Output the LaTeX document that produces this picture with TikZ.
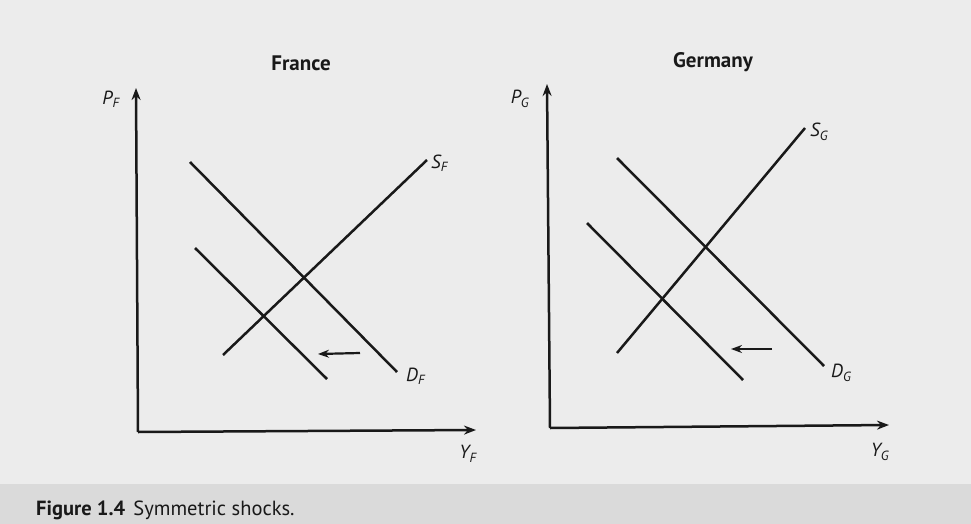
\documentclass[tikz,border=0pt]{standalone}
\usepackage{fontspec}
\setmainfont{PT Sans}
\usetikzlibrary{arrows.meta}
\definecolor{paper}{RGB}{236,236,236}
\definecolor{band}{RGB}{218,218,218}
\definecolor{ink}{RGB}{25,25,25}
\tikzset{
  curve/.style={draw=ink, line width=2.5pt},
  axis/.style={draw=ink, line width=2.5pt, -{Stealth[length=12pt,width=9pt]}},
  shiftarrow/.style={draw=ink, line width=2.2pt, -{Stealth[length=11pt,width=8pt]}},
  lab/.style={font=\fontsize{19}{21}\selectfont\itshape, text=ink, inner sep=0pt},
  ttl/.style={font=\fontsize{21}{24}\selectfont\bfseries, text=ink, inner sep=0pt},
}
\newcommand{\lbl}[2]{#1\textsubscript{\upshape\itshape #2}}
\begin{document}
\begin{tikzpicture}[x=1pt,y=-1pt]
\useasboundingbox (0,0) rectangle (971,524);
\fill[paper] (0,0) rectangle (971,524);
\fill[band] (0,484) rectangle (971,524);

% ---------- France ----------
\node[ttl] (tF) at (301,63) {France};
\coordinate (oF) at (138,432);
\coordinate (yF) at (136,88);
\coordinate (xF) at (476,430);
\draw[axis] (oF) -- (yF);
\draw[axis] (oF) -- (xF);
\node[lab] (pF) at (111,99) {\lbl{P}{F}};
\node[lab] (qF) at (468,454) {\lbl{Y}{F}};
\coordinate (sF1) at (223,355);
\coordinate (sF2) at (427,160);
\draw[curve] (sF1) -- (sF2);
\node[lab, anchor=west] (SFl) at (431,163) {\lbl{S}{F}};
\coordinate (dF1) at (190,162);
\coordinate (dF2) at (397,372);
\draw[curve] (dF1) -- (dF2);
\node[lab, anchor=west] (DFl) at (406,376) {\lbl{D}{F}};
\coordinate (eF1) at (195,248);
\coordinate (eF2) at (327,379);
\draw[curve] (eF1) -- (eF2);
\coordinate (aF1) at (360,353);
\coordinate (aF2) at (318,354);
\draw[shiftarrow] (aF1) -- (aF2);

% ---------- Germany ----------
\node[ttl] (tG) at (713,62) {Germany};
\coordinate (oG) at (550,428);
\coordinate (yG) at (547,84);
\coordinate (xG) at (889,425);
\draw[axis] (oG) -- (yG);
\draw[axis] (oG) -- (xG);
\node[lab] (pG) at (520,99) {\lbl{P}{G}};
\node[lab] (qG) at (880,452) {\lbl{Y}{G}};
\coordinate (sG1) at (617,353);
\coordinate (sG2) at (805,128);
\draw[curve] (sG1) -- (sG2);
\node[lab, anchor=west] (SGl) at (810,132) {\lbl{S}{G}};
\coordinate (dG1) at (617,158);
\coordinate (dG2) at (824,366);
\draw[curve] (dG1) -- (dG2);
\node[lab, anchor=west] (DGl) at (831,373) {\lbl{D}{G}};
\coordinate (eG1) at (587,223);
\coordinate (eG2) at (743,380);
\draw[curve] (eG1) -- (eG2);
\coordinate (aG1) at (772,349);
\coordinate (aG2) at (731,349);
\draw[shiftarrow] (aG1) -- (aG2);

% ---------- caption ----------
\node[anchor=west, inner sep=0pt, text=ink, font=\fontsize{20.5}{23}\selectfont] (cap) at (36,510)
  {\textbf{Figure 1.4}\hspace{0.4em}Symmetric shocks.};
\end{tikzpicture}
\end{document}
